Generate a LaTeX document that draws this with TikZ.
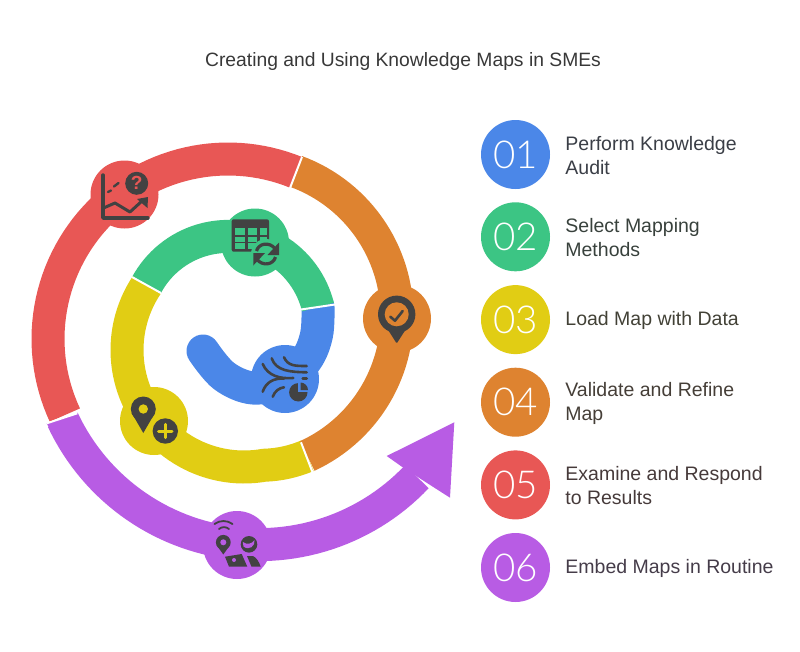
\documentclass[tikz,border=0pt]{standalone}
\usepackage{fontspec}
\setmainfont{Liberation Sans}
\newfontfamily\numfont{Lato Light}
\usetikzlibrary{positioning}
\definecolor{auditblue}{HTML}{4B87E8}
\definecolor{methodgreen}{HTML}{3CC584}
\definecolor{loadyellow}{HTML}{E1CD14}
\definecolor{refineorange}{HTML}{DE8330}
\definecolor{resultred}{HTML}{E85755}
\definecolor{routinepurple}{HTML}{B85CE4}
\definecolor{icondark}{HTML}{424242}
\definecolor{textdark}{HTML}{383838}
\tikzset{
  band/.style={line width=33pt},
  hub/.style={circle,minimum size=68pt,inner sep=0pt},
  numdot/.style={circle,minimum size=69pt,inner sep=0pt,text=white,font=\numfont\fontsize{38.5}{40}\selectfont},
  itemlabel/.style={right=15pt of #1,yshift=-0.8pt,inner sep=0pt,align=left,font=\fontsize{19.5}{24}\selectfont},
  seam/.style={draw=white,line width=2pt},
  iconline/.style={draw=icondark,line width=2.6pt,line cap=round,line join=round},
  iconfill/.style={fill=icondark}
}

\begin{document}
\begin{tikzpicture}[x=1pt,y=-1pt]
    \useasboundingbox (0,0) rectangle (800,651);

    \node[text=textdark,font=\fontsize{19.3}{24}\selectfont] (title) at (403,61.8) {Creating and Using Knowledge Maps in SMEs};

    % the spiral, inner end first
    \draw[band,auditblue,line cap=round] plot[smooth,tension=0.6] coordinates {(203,351) (224,376) (253,388) (283,381) (306,360) (316.5,335) (318,307)};
    \draw[band,methodgreen,domain=-13.7:-151.6,samples=50] plot ({228+92.6*cos(\x)},{329+92.6*sin(\x)});
    \draw[band,loadyellow,domain=213.7:59,samples=60] plot ({244+(117+max(0,80-\x)*0.3)*cos(\x)},{350+(117+max(0,80-\x)*0.3)*sin(\x)});
    \draw[band,refineorange,domain=65.3:-69.8,samples=60] plot ({243+154*cos(\x)},{316+154*sin(\x)});
    \draw[band,resultred,domain=-67.8:-205,samples=60] plot ({228+180*cos(\x)},{339+180*sin(\x)});
    \draw[band,routinepurple,domain=154.8:43.4,samples=60] plot ({259.2+217*cos(\x)},{327.6+217*sin(\x)});
    \fill[routinepurple] (454.3,422.3) -- (386.7,456) -- (402.7,467.3) -- (431.7,486) -- (450,497.7) -- cycle;

    % white cuts between the colours
    \coordinate (blueA) at (301,309.5);
    \coordinate (blueB) at (335,304.5);
    \coordinate (yellowA) at (132,277);
    \coordinate (yellowB) at (161,293);
    \coordinate (orangeA) at (301,442.3);
    \coordinate (orangeB) at (312.7,472.7);
    \coordinate (redA) at (290,188);
    \coordinate (redB) at (302,157);
    \coordinate (purpleA) at (46.7,423.3);
    \coordinate (purpleB) at (77.3,413.3);
    \fill[routinepurple] (purpleA) -- (purpleB) -- (80,420) -- (50,430) -- cycle;
    \draw[seam] (blueA) -- (blueB);
    \draw[seam] (yellowA) -- (yellowB);
    \draw[seam] (orangeA) -- (orangeB);
    \draw[seam] (redA) -- (redB);
    \draw[seam] (purpleA) -- (purpleB);

    \node[hub,fill=auditblue] (hubaudit) at (285,379) {};
    \node[hub,fill=methodgreen] (hubmethod) at (255,242.5) {};
    \node[hub,fill=loadyellow] (hubload) at (154,421) {};
    \node[hub,fill=refineorange] (hubrefine) at (397,318.5) {};
    \node[hub,fill=resultred] (hubresult) at (124.5,194.5) {};
    \node[hub,fill=routinepurple] (hubroutine) at (237,545) {};

    % audit icon
    \draw[iconline] (284,357.3) .. controls (288,366) and (295,366) .. (306.7,366);
    \draw[iconline] (271.7,358.3) .. controls (276,371) and (290,372) .. (306.7,372.3);
    \draw[iconline] (262.7,364) .. controls (268,376) and (280,379) .. (293.3,378);
    \draw[iconline] (262.7,391.7) .. controls (266,382) and (274,378) .. (284,378.6);
    \draw[iconline] (272.7,396.7) .. controls (275,391) and (279,388) .. (284,387.3);
    \draw[iconline] (302.7,378.3) -- (306.7,378.3);
    \fill[iconfill] (298.3,392.3) circle[radius=9.2pt];
    \fill[auditblue] (298.3,392.3) -- (298.3,381) -- (310,381) -- (310,392.3) -- cycle;
    \fill[iconfill] (300.5,390) -- (300.5,382.5) .. controls (304.5,382.5) and (308,386) .. (308,390) -- cycle;

    % table icon
    \fill[iconfill,rounded corners=2pt] (231.7,219.3) rectangle (269,251.7);
    \foreach \rowtop/\rowbot in {228.3/235,236.7/241.7,243.3/249.3}
      \foreach \colleft/\colright in {235/245,248.3/256.7,260/266.7}
        \fill[methodgreen] (\colleft,\rowtop) rectangle (\colright,\rowbot);
    \fill[methodgreen] (266,254) circle[radius=15pt];
    \draw[iconline,line cap=butt,line width=3.2pt] (256.5,251) .. controls (258.5,243.5) and (269,241) .. (275.5,249);
    \draw[iconline,line cap=butt,line width=3.2pt] (275.5,257) .. controls (273.5,264.5) and (263,267) .. (256.5,259);
    \fill[iconfill] (279,242.5) -- (279,255) -- (267.5,255) -- cycle;
    \fill[iconfill] (253.3,265.5) -- (253.3,253) -- (265,253) -- cycle;

    % pin with check
    \fill[iconfill] (396.7,314.3) circle[radius=18.7pt];
    \fill[iconfill,rounded corners=1pt] (387.5,329) -- (396.7,343.5) -- (406,329) -- cycle;
    \fill[refineorange] (396.7,314.3) circle[radius=12pt];
    \draw[iconline] (390.3,316.7) -- (395,320.7) -- (402.7,311);

    % chart icon
    \draw[iconline,line width=3.4pt] (103,175) -- (103,218) -- (148,218);
    \draw[iconline,line width=3pt] (103.5,208) -- (115,203) -- (130,212) -- (142,201);
    \fill[iconfill] (148,197) -- (147.5,208) -- (137,199) -- cycle;
    \draw[iconline,line width=2.4pt] (108,192) -- (111,190.5);
    \draw[iconline,line width=2.4pt] (114,186.5) -- (118.5,183);
    \node[circle,fill=icondark,minimum size=23pt,inner sep=0pt,text=resultred,font=\bfseries\fontsize{19}{19}\selectfont] (helpmark) at (136.7,183.3) {?};

    % pin with plus
    \fill[iconfill] (143.3,409) circle[radius=12.5pt];
    \fill[iconfill] (131.7,413) -- (143.3,433) -- (154.9,413) -- cycle;
    \fill[loadyellow] (143.3,409) circle[radius=4.7pt];
    \fill[iconfill] (165.3,431) circle[radius=12.7pt];
    \draw[loadyellow,line width=3pt,line cap=round] (158.5,431) -- (172,431);
    \draw[loadyellow,line width=3pt,line cap=round] (165.3,424.3) -- (165.3,437.7);

    % map and people icon
    \draw[iconline,line width=1.8pt] (214.5,524) .. controls (220,520) and (227,520) .. (232.5,524);
    \draw[iconline,line width=1.8pt] (219,529) .. controls (222,526.5) and (226,526.5) .. (229,529);
    \fill[iconfill] (223.3,542.3) circle[radius=7.4pt];
    \fill[iconfill] (216.5,545) -- (223.3,554.5) -- (230.1,545) -- cycle;
    \fill[routinepurple] (223.3,542.3) circle[radius=3pt];
    \fill[iconfill] (249,544.3) circle[radius=8.3pt];
    \fill[routinepurple] (242.8,542) .. controls (247,545) and (252,544) .. (254.5,540) .. controls (255.5,546) and (249,551) .. (243.5,546.5) -- cycle;
    \fill[iconfill] (225,556.7) -- (241.7,554) -- (247.3,566.7) -- (229,566.7) -- cycle;
    \fill[routinepurple] (234,560) circle[radius=2pt];
    \fill[iconfill] (247,556) -- (253,556) .. controls (257,558) and (259,562) .. (260.7,566.7) -- (251.5,566.7) -- cycle;

    % legend
    \node[numdot,fill=auditblue] (step1) at (515.5,154.5) {01};
    \node[numdot,fill=methodgreen] (step2) at (515.5,236.8) {02};
    \node[numdot,fill=loadyellow] (step3) at (515.5,319.6) {03};
    \node[numdot,fill=refineorange] (step4) at (515.5,402.2) {04};
    \node[numdot,fill=resultred] (step5) at (515.5,484.9) {05};
    \node[numdot,fill=routinepurple] (step6) at (515.5,567.5) {06};

    \node[itemlabel=step1,text=textdark!92!auditblue] (text1) {Perform Knowledge\\Audit};
    \node[itemlabel=step2,text=textdark!94!methodgreen] (text2) {Select Mapping\\Methods};
    \node[itemlabel=step3,text=textdark!94!loadyellow] (text3) {Load Map with Data};
    \node[itemlabel=step4,text=textdark!92!refineorange] (text4) {Validate and Refine\\Map};
    \node[itemlabel=step5,text=textdark!92!resultred] (text5) {Examine and Respond\\to Results};
    \node[itemlabel=step6,text=textdark!90!routinepurple] (text6) {Embed Maps in Routine};
\end{tikzpicture}
\end{document}
